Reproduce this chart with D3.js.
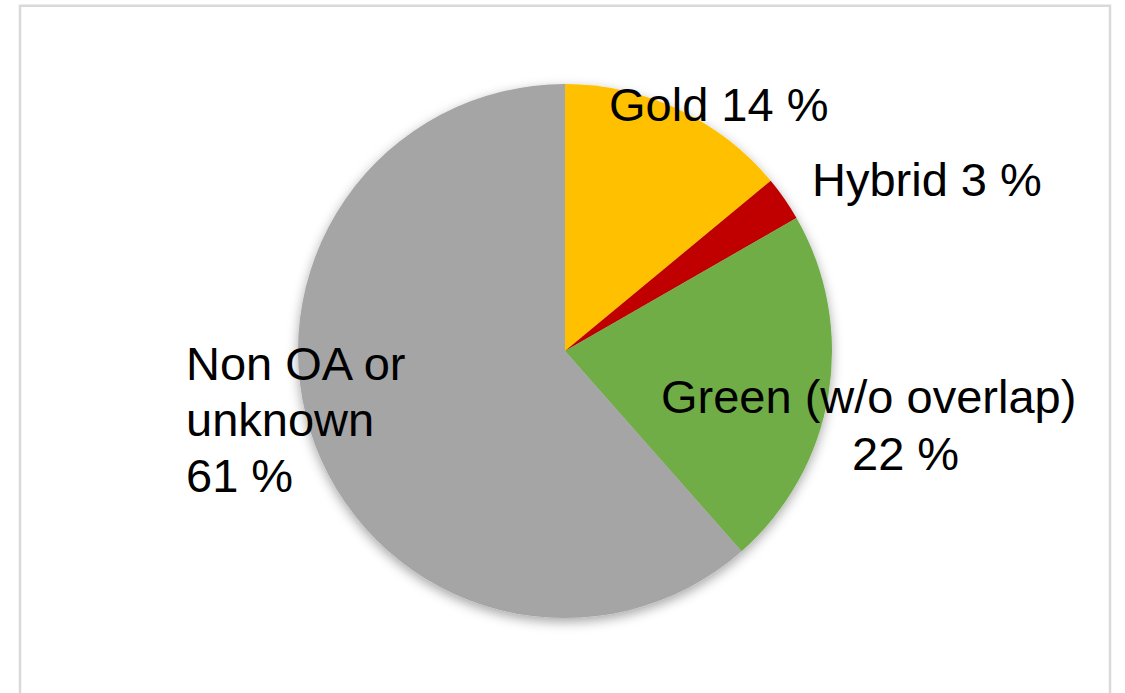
<!DOCTYPE html>
<html>
<head>
<meta charset="utf-8">
<script src="https://cdn.jsdelivr.net/npm/d3@7"></script>
<style>
    body { margin: 0; background: #fff; }
    .slice-label { font-family: "Liberation Sans", Arial, sans-serif; font-size: 47px; fill: #000; }
</style>
</head>
<body>
<div id="pie-area"></div>
<script>
// data (slice sizes estimated from the slice edges)
var categories = ['Gold', 'Hybrid', 'Green (w/o overlap)', 'Non OA or unknown'];
var shares = [14.0, 2.7, 21.8, 61.5];
var sliceColors = ['#FFC000', '#C00000', '#70AD47', '#A5A5A5'];

// label lines per slice, as printed
var labelLines = [
    ['Gold 14 %'],
    ['Hybrid 3 %'],
    ['Green (w/o overlap)', '22 %'],
    ['Non OA or', 'unknown', '61 %']
];

/* PieChart - Object constructor function */
PieChart = function(_parentElement) {
    this.parentElement = _parentElement;

    this.initVis();
}

PieChart.prototype.initVis = function() {
    var vis = this;

    vis.width = 1125;
    vis.height = 693;

    vis.svg = d3.select('#' + vis.parentElement)
        .append('svg')
        .attr('width', vis.width)
        .attr('height', vis.height);

    // soft shadow under the pie
    var filter = vis.svg.append('defs')
        .append('filter')
        .attr('id', 'pie-shadow')
        .attr('x', '-20%').attr('y', '-20%')
        .attr('width', '140%').attr('height', '140%');
    filter.append('feDropShadow')
        .attr('dx', 0)
        .attr('dy', 4)
        .attr('stdDeviation', 6)
        .attr('flood-color', '#000')
        .attr('flood-opacity', 0.35);

    // chart frame (bottom edge runs off the picture)
    vis.svg.append('path')
        .attr('d', 'M20,' + (vis.height + 10) + ' L20,5.7 L1110,5.7 L1110,' + (vis.height + 10))
        .attr('fill', 'none')
        .attr('stroke', '#d9d9d9')
        .attr('stroke-width', 2.5);

    vis.cx = 565;
    vis.cy = 351;
    vis.radius = 267;

    vis.g = vis.svg.append('g')
        .attr('transform', 'translate(' + vis.cx + ',' + vis.cy + ')');

    vis.pie = d3.pie()
        .sort(null)
        .value(d => d.value);

    vis.arc = d3.arc()
        .innerRadius(0)
        .outerRadius(vis.radius);

    vis.color = d3.scaleOrdinal()
        .domain(categories)
        .range(sliceColors);

    vis.wrangleData();
}

PieChart.prototype.wrangleData = function() {
    var vis = this;

    vis.displayData = categories.map((c, i) => ({ name: c, value: shares[i], lines: labelLines[i] }));

    vis.updateVis();
}

PieChart.prototype.updateVis = function() {
    var vis = this;

    var arcs = vis.pie(vis.displayData);

    vis.g.append('g')
        .attr('filter', 'url(#pie-shadow)')
        .selectAll('path')
        .data(arcs)
        .enter()
        .append('path')
        .attr('d', vis.arc)
        .attr('fill', d => vis.color(d.data.name));

    // label anchors: [x of each line], first baseline, line step
    var labelPos = [
        { x: [609], y: 121, step: 56 },
        { x: [812], y: 196, step: 56 },
        { x: [661, 852], y: 413, step: 57 },
        { x: [186, 186, 186], y: 380, step: 56 }
    ];

    var labels = vis.svg.selectAll('.slice-label')
        .data(vis.displayData)
        .enter()
        .append('text')
        .attr('class', 'slice-label');

    labels.each(function(d, i) {
        var pos = labelPos[i];
        d3.select(this).selectAll('tspan')
            .data(d.lines)
            .enter()
            .append('tspan')
            .attr('x', (l, j) => pos.x[j])
            .attr('y', (l, j) => pos.y + j * pos.step)
            .text(l => l);
    });
}

new PieChart('pie-area');
</script>
</body>
</html>
